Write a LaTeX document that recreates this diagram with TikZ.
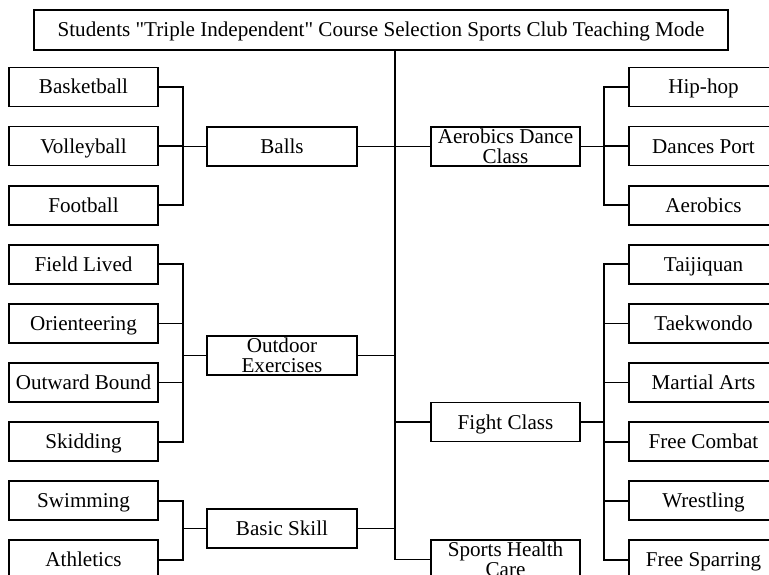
\documentclass[tikz,border=0pt]{standalone}
\usepackage{fontspec}
\setmainfont{Liberation Serif}[Ligatures=TeXOff]
\begin{document}
\begin{tikzpicture}[x=1pt,y=-1pt,
  box/.style={draw,line width=1.8pt,minimum width=149pt,minimum height=39pt,inner sep=0pt,align=center,font=\fontsize{21.1}{20.5}\selectfont},
  onebox/.style={box,text height=14pt,text depth=0pt},
  conn/.style={line width=1.8pt}]
\useasboundingbox (0,0) rectangle (769,575);
% title
\node[onebox,minimum width=694pt,minimum height=40pt] (title) at (381,30) {Students "Triple Independent" Course Selection Sports Club Teaching Mode};
% left column
\node[onebox] (bask) at (83.5,87) {Basketball};
\node[onebox] (volley) at (83.5,146.1) {Volleyball};
\node[onebox] (foot) at (83.5,205.2) {Football};
\node[onebox] (field) at (83.5,264.3) {Field Lived};
\node[onebox] (orient) at (83.5,323.4) {Orienteering};
\node[onebox] (outward) at (83.5,382.5) {Outward Bound};
\node[onebox] (skid) at (83.5,441.6) {Skidding};
\node[onebox] (swim) at (83.5,500.7) {Swimming};
\node[onebox] (athl) at (83.5,559.8) {Athletics};
% middle left
\node[onebox,minimum width=150pt] (balls) at (282,146.5) {Balls};
\node[box,minimum width=150pt] (outdoor) at (282,355.5) {Outdoor\\Exercises};
\node[onebox,minimum width=150pt] (basic) at (282,528.5) {Basic Skill};
% middle right
\node[box] (adc) at (505.5,146.5) {Aerobics Dance\\Class};
\node[onebox] (fight) at (505.5,422) {Fight Class};
\node[box] (shc) at (505.5,559.5) {Sports Health\\Care};
% right column
\node[onebox] (hip) at (703.5,87) {Hip-hop};
\node[onebox] (dport) at (703.5,146.1) {Dances Port};
\node[onebox] (aero) at (703.5,205.2) {Aerobics};
\node[onebox] (taiji) at (703.5,264.3) {Taijiquan};
\node[onebox] (taek) at (703.5,323.4) {Taekwondo};
\node[onebox] (martial) at (703.5,382.5) {Martial Arts};
\node[onebox] (combat) at (703.5,441.6) {Free Combat};
\node[onebox] (wrest) at (703.5,500.7) {Wrestling};
\node[onebox] (spar) at (703.5,559.8) {Free Sparring};
% bracket coordinates
\coordinate (bL) at (183,0);
\coordinate (bR) at (604,0);
\coordinate (tr) at (395,0);
\coordinate (trend) at (395,559.5);
% left brackets
\foreach \c in {bask,volley,foot}
  \draw[conn] (\c.east) -| (bL |- balls) -- (balls.west);
\foreach \c in {field,orient,outward,skid}
  \draw[conn] (\c.east) -| (bL |- outdoor) -- (outdoor.west);
\foreach \c in {swim,athl}
  \draw[conn] (\c.east) -| (bL |- basic) -- (basic.west);
% right brackets
\foreach \c in {hip,dport,aero}
  \draw[conn] (\c.west) -| (bR |- adc) -- (adc.east);
\foreach \c in {taiji,taek,martial,combat,wrest,spar}
  \draw[conn] (\c.west) -| (bR |- fight) -- (fight.east);
% trunk
\draw[conn] (title.south -| tr) -- (trend) -- (shc.west);
\draw[conn] (balls.east) -- (tr |- balls);
\draw[conn] (outdoor.east) -- (tr |- outdoor);
\draw[conn] (basic.east) -- (tr |- basic);
\draw[conn] (tr |- adc) -- (adc.west);
\draw[conn] (tr |- fight) -- (fight.west);
\end{tikzpicture}
\end{document}
